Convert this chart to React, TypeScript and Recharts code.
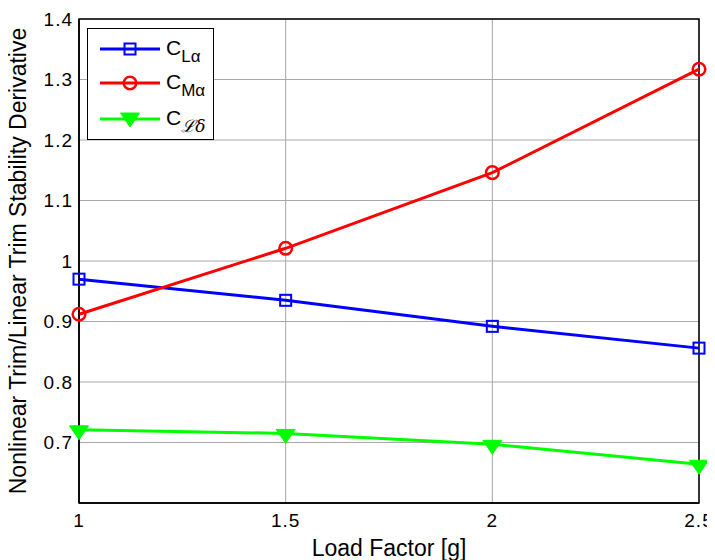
import React from "react";
import {
  LineChart,
  Line,
  XAxis,
  YAxis,
  CartesianGrid,
  ReferenceArea,
} from "recharts";

// values
const loadFactor = [1, 1.5, 2, 2.5];
const cLAlpha = [0.97, 0.935, 0.892, 0.856];
const cMAlpha = [0.912, 1.021, 1.146, 1.317];
const cLDelta = [0.721, 0.715, 0.697, 0.664];

const xTicks = [1, 1.5, 2, 2.5];
const yTicks = [0.7, 0.8, 0.9, 1, 1.1, 1.2, 1.3, 1.4];

const data = loadFactor.map((g, i) => ({
  g,
  cla: cLAlpha[i],
  cma: cMAlpha[i],
  cld: cLDelta[i],
}));

const FONT = "'Liberation Sans', Arial, sans-serif";

const SquareDot = (props: any) => {
  const { cx, cy } = props;
  if (cx == null || cy == null) return null;
  return (
    <rect
      x={cx - 5.5}
      y={cy - 5.5}
      width={11}
      height={11}
      fill="none"
      stroke="#0000ff"
      strokeWidth={2}
    />
  );
};

const CircleDot = (props: any) => {
  const { cx, cy } = props;
  if (cx == null || cy == null) return null;
  return <circle cx={cx} cy={cy} r={6.3} fill="none" stroke="#ff0000" strokeWidth={2.5} />;
};

const TriangleDot = (props: any) => {
  const { cx, cy } = props;
  if (cx == null || cy == null) return null;
  return (
    <path
      d={`M${cx - 9.5},${cy - 4} L${cx + 9.5},${cy - 4} L${cx},${cy + 10} Z`}
      fill="#00ff00"
      stroke="#00ff00"
      strokeWidth={1}
    />
  );
};

const legendRows = [
  { color: "#0000ff", marker: "square", sub: <span>Lα</span> },
  { color: "#ff0000", marker: "circle", sub: <span>Mα</span> },
  {
    color: "#00ff00",
    marker: "triangle",
    sub: <span style={{ fontStyle: "italic", fontFamily: "'DejaVu Serif', serif" }}>ℒδ</span>,
  },
];

function LegendBox() {
  return (
    <div
      style={{
        position: "absolute",
        left: 87,
        top: 20,
        width: 127,
        height: 112,
        border: "1px solid #000",
        background: "#fff",
        boxSizing: "border-box",
        fontFamily: FONT,
      }}
    >
      {legendRows.map((r, i) => (
        <div
          key={i}
          style={{
            position: "absolute",
            left: 0,
            top: [20, 54, 90][i] - 14,
            height: 28,
            display: "flex",
            alignItems: "center",
          }}
        >
          <svg width={76} height={28}>
            <line x1={12} x2={72} y1={14} y2={14} stroke={r.color} strokeWidth={3} />
            {r.marker === "square" && <SquareDot cx={42} cy={14} />}
            {r.marker === "circle" && <CircleDot cx={42} cy={14} />}
            {r.marker === "triangle" && <TriangleDot cx={42} cy={12} />}
          </svg>
          <span style={{ fontSize: 21, marginLeft: 2, lineHeight: "28px" }}>
            C
            <span style={{ fontSize: 17, position: "relative", top: 7 }}>{r.sub}</span>
          </span>
        </div>
      ))}
    </div>
  );
}

export default function App() {
  return (
    <div
      style={{
        position: "relative",
        width: 715,
        height: 552,
        marginLeft: -8,
        fontFamily: FONT,
      }}
    >
      <LineChart
        width={715}
        height={552}
        data={data}
        margin={{ top: 11, right: 16, left: 19, bottom: 27 }}
      >
        <CartesianGrid stroke="#a8a8a8" strokeWidth={1} />
        <XAxis
          dataKey="g"
          type="number"
          domain={[1, 2.5]}
          ticks={xTicks}
          height={30}
          tickLine={false}
          tickMargin={5}
          axisLine={{ stroke: "#000", strokeWidth: 1.5 }}
          tick={{ fill: "#000", fontSize: 19, fontFamily: FONT, letterSpacing: 1 }}
          label={{
            value: "Load Factor [g]",
            position: "bottom",
            offset: 7,
            style: { fill: "#000", fontSize: 23, fontFamily: FONT },
          }}
        />
        <YAxis
          type="number"
          domain={[0.6, 1.4]}
          ticks={yTicks}
          width={60}
          tickLine={false}
          tickMargin={0}
          axisLine={{ stroke: "#000", strokeWidth: 1.5 }}
          tick={{ fill: "#000", fontSize: 19, fontFamily: FONT, letterSpacing: 1 }}
          label={{
            value: "Nonlinear Trim/Linear Trim Stability Derivative",
            angle: -90,
            position: "center",
            dx: -31,
            style: { fill: "#000", fontSize: 23, fontFamily: FONT, textAnchor: "middle" },
          }}
        />
        <ReferenceArea
          x1={1}
          x2={2.5}
          y1={0.6}
          y2={1.4}
          fill="none"
          stroke="#000"
          strokeWidth={1.5}
        />
        <Line
          dataKey="cla"
          stroke="#0000ff"
          strokeWidth={3}
          dot={<SquareDot />}
          isAnimationActive={false}
        />
        <Line
          dataKey="cma"
          stroke="#ff0000"
          strokeWidth={3}
          dot={<CircleDot />}
          isAnimationActive={false}
        />
        <Line
          dataKey="cld"
          stroke="#00ff00"
          strokeWidth={3}
          dot={<TriangleDot />}
          isAnimationActive={false}
        />
      </LineChart>
      <LegendBox />
    </div>
  );
}
